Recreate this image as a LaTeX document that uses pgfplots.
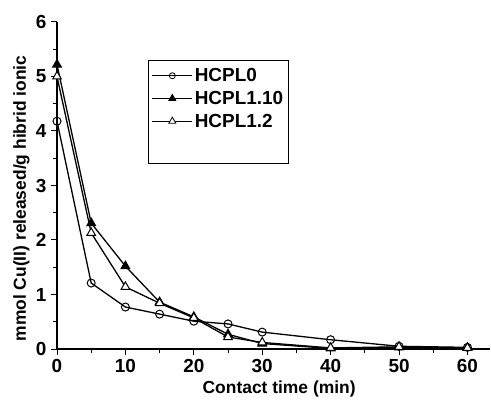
\documentclass[border=0pt]{standalone}
\usepackage{pgfplots}
\pgfplotsset{compat=1.18}
\usepackage{fontspec}
\setmainfont{Liberation Sans}
\begin{document}
\begin{tikzpicture}
\begin{axis}[
  name=ax,
  scale only axis,
  width=433bp, height=327bp,
  xmin=0, xmax=63.3, ymin=0, ymax=6,
  axis x line*=bottom, axis y line*=left,
  axis line style={line width=1.1bp, -},
  xtick={0,10,...,60}, ytick={0,1,...,6},
  minor x tick num=1, minor y tick num=1,
  tick align=outside,
  major tick length=6bp, minor tick length=4bp,
  tick style={line width=1bp, black},
  /pgf/number format/assume math mode=true,
  ticklabel style={font=\fontsize{19}{21}\selectfont\bfseries},
  xticklabel style={yshift=-1bp},
  yticklabel style={xshift=-1bp},
  xlabel={Contact time (min)},
  ylabel={mmol Cu(II) released/g hibrid ionic},
  label style={font=\fontsize{17.5}{19}\selectfont\bfseries},
  xlabel style={at={(axis description cs:0.513,-0.137)}, anchor=base},
  ylabel style={at={(axis description cs:-0.072,0.46)}, anchor=base},
  clip=false,
  legend style={at={(rel axis cs:0.211,0.884)}, anchor=north west,
    draw=black, line width=0.9bp,
    nodes={font=\fontsize{19}{21}\selectfont\bfseries, inner sep=2bp},
    inner xsep=3bp, inner ysep=6bp, row sep=4bp},
  legend cell align=left,
  legend image code/.code={
    \draw[mark repeat=2, mark phase=2] plot coordinates {(0bp,0bp) (20bp,0bp) (40bp,0bp)};},
  every axis plot/.append style={line width=1.3bp, black},
]
\addplot[forget plot, mark=o, mark size=4bp, mark options={fill=white, line width=1bp}]
  coordinates {(0,4.18) (5,1.21) (10,0.77) (15,0.64) (20,0.51) (25,0.46) (30,0.31) (40,0.17) (50,0.05) (60,0.03)};
\addplot[forget plot, mark=triangle*, mark size=5bp, mark options={fill=black, line width=1bp}]
  coordinates {(0,5.22) (5,2.31) (10,1.52) (15,0.86) (20,0.59) (25,0.27) (30,0.10) (40,0.01) (50,0.03) (60,0.02)};
\addplot[forget plot, mark=triangle*, mark size=5bp, mark options={fill=white, line width=1bp}]
  coordinates {(0,5.00) (5,2.13) (10,1.14) (15,0.84) (20,0.57) (25,0.22) (30,0.12) (40,0.02) (50,0.04) (60,0.02)};
\addlegendimage{line width=1bp, black, mark=o, mark size=3bp, mark options={fill=white, line width=0.8bp}}
\addlegendentry{HCPL0}
\addlegendimage{line width=1bp, black, mark=triangle*, mark size=4bp, mark options={fill=black, line width=0.8bp}}
\addlegendentry{HCPL1.10}
\addlegendimage{line width=1bp, black, mark=triangle*, mark size=4bp, mark options={fill=white, line width=0.8bp}}
\addlegendentry{HCPL1.2}
\addlegendimage{empty legend}
\addlegendentry{\rule{0pt}{17bp}}
\end{axis}
\path (ax.south west) ++(-57bp,-52bp) coordinate (bl);
\path (ax.north east) ++(1bp,22bp) coordinate (tr);
\path (bl) rectangle (tr);
\end{tikzpicture}
\end{document}
